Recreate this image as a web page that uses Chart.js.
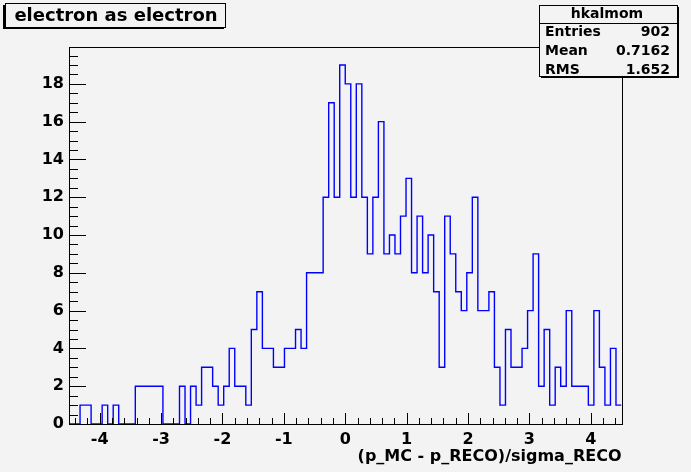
<!DOCTYPE html>
<html>
<head>
<meta charset="utf-8">
<script src="https://cdn.jsdelivr.net/npm/chart.js@4"></script>
<style>
  html, body { margin: 0; padding: 0; background: #f3f3f3; }
  canvas { display: block; }
</style>
</head>
<body>
<canvas id="histo" width="691" height="472"></canvas>
<script>
// histogram binning: 100 bins from -4.5 to 4.5
const binLow = -4.5;
const binHigh = 4.5;
const binWidth = 0.09;
const counts = [
  0, 0, 1, 1, 0, 0, 1, 0, 1, 0,
  0, 0, 2, 2, 2, 2, 2, 0, 0, 0,
  2, 0, 2, 1, 3, 3, 2, 1, 2, 4,
  2, 2, 1, 5, 7, 4, 4, 3, 3, 4,
  4, 5, 4, 8, 8, 8, 12, 17, 12, 19,
  18, 12, 18, 12, 9, 12, 16, 9, 10, 9,
  11, 13, 8, 11, 8, 10, 7, 3, 11, 9,
  7, 6, 8, 12, 6, 6, 7, 3, 1, 5,
  3, 3, 4, 6, 9, 2, 5, 1, 3, 2,
  6, 2, 2, 2, 1, 6, 3, 1, 4, 1
];
const xTicks = [-4, -3, -2, -1, 0, 1, 2, 3, 4];
const yTicks = [0, 2, 4, 6, 8, 10, 12, 14, 16, 18];
const yMax = 19.95;

const histTitle = 'electron as electron';
const xTitle = '(p_MC - p_RECO)/sigma_RECO';
const statsName = 'hkalmom';
const statsLabels = ['Entries', 'Mean', 'RMS'];
const statsValues = ['902', '0.7162', '1.652'];

// left edge of every bin + closing point at the upper edge
const points = counts.map((c, i) => ({ x: binLow + i * binWidth, y: c }));
points.push({ x: binHigh, y: counts[counts.length - 1] });

const FONT = '"DejaVu Sans", "Liberation Sans", sans-serif';

const rootFrame = {
  id: 'rootFrame',
  afterDatasetsDraw(chart) {
    const ctx = chart.ctx;
    const a = chart.chartArea;
    const xs = chart.scales.x, ys = chart.scales.y;
    ctx.save();
    ctx.strokeStyle = '#000';
    ctx.lineWidth = 1;

    // frame
    ctx.strokeRect(Math.round(a.left) + 0.5, Math.round(a.top) + 0.5,
      Math.round(a.right - a.left), Math.round(a.bottom - a.top));

    // x ticks (inward)
    ctx.beginPath();
    for (let v = -4.4; v < binHigh; v += 0.2) {
      const px = Math.round(xs.getPixelForValue(v)) + 0.5;
      const major = Math.abs(v - Math.round(v)) < 1e-6;
      ctx.moveTo(px, a.bottom);
      ctx.lineTo(px, a.bottom - (major ? 11 : 6));
    }
    // y ticks
    for (let v = 0; v <= yMax; v += 0.5) {
      const py = Math.round(ys.getPixelForValue(v)) + 0.5;
      const major = v % 2 === 0;
      ctx.moveTo(a.left, py);
      ctx.lineTo(a.left + (major ? 17 : 9), py);
    }
    ctx.stroke();

    // x axis title
    ctx.fillStyle = '#000';
    ctx.font = 'bold 16px ' + FONT;
    ctx.textAlign = 'right';
    ctx.textBaseline = 'alphabetic';
    ctx.fillText(xTitle, a.right, 461);

    // title box
    ctx.fillStyle = '#f3f3f3';
    ctx.fillRect(5, 3, 221, 24);
    ctx.fillStyle = '#000';
    ctx.fillRect(3, 5, 2, 24);
    ctx.fillRect(3, 27, 221, 2);
    ctx.strokeRect(5.5, 3.5, 220, 24);
    ctx.font = 'bold 18px ' + FONT;
    ctx.textAlign = 'center';
    ctx.textBaseline = 'middle';
    ctx.fillText(histTitle, 116, 16);

    // stats box
    const sx = 539, sy = 5, sw = 138, sh = 71;
    ctx.fillStyle = '#000';
    ctx.fillRect(sx + 2, sy + sh, sw, 2);
    ctx.fillRect(sx + sw, sy + 2, 2, sh);
    ctx.fillStyle = '#f3f3f3';
    ctx.fillRect(sx, sy, sw, sh);
    ctx.strokeRect(sx + 0.5, sy + 0.5, sw, sh);
    ctx.beginPath();
    ctx.moveTo(sx, 23.5);
    ctx.lineTo(sx + sw, 23.5);
    ctx.stroke();
    ctx.fillStyle = '#000';
    ctx.font = 'bold 14px ' + FONT;
    ctx.textAlign = 'center';
    ctx.fillText(statsName, sx + sw / 2 - 1, 14);
    const rowY = [32, 51, 70];
    statsLabels.forEach((lab, i) => {
      ctx.textAlign = 'left';
      ctx.fillText(lab, 545, rowY[i]);
      ctx.textAlign = 'right';
      ctx.fillText(statsValues[i], 670, rowY[i]);
    });
    ctx.restore();
  }
};

new Chart(document.getElementById('histo'), {
  type: 'line',
  data: {
    datasets: [{
      data: points,
      stepped: true,
      borderColor: '#0000ff',
      borderWidth: 1.4,
      pointRadius: 0,
      fill: false
    }]
  },
  options: {
    responsive: false,
    animation: false,
    devicePixelRatio: 1,
    layout: { padding: { top: 47, right: 69.5, left: 0, bottom: 0 } },
    plugins: { legend: { display: false }, tooltip: { enabled: false } },
    scales: {
      x: {
        type: 'linear',
        min: binLow,
        max: binHigh,
        grid: { display: false, drawTicks: false },
        border: { display: false },
        afterBuildTicks: s => { s.ticks = xTicks.map(v => ({ value: v })); },
        afterFit: s => { s.height = 48; },
        ticks: {
          autoSkip: false,
          maxRotation: 0,
          padding: 6,
          color: '#000',
          font: { family: FONT, size: 16, weight: 'bold' }
        }
      },
      y: {
        min: 0,
        max: yMax,
        grid: { display: false, drawTicks: false },
        border: { display: false },
        afterBuildTicks: s => { s.ticks = yTicks.map(v => ({ value: v })); },
        afterFit: s => { s.width = 69; },
        ticks: {
          autoSkip: false,
          padding: 5,
          color: '#000',
          font: { family: FONT, size: 16, weight: 'bold' }
        }
      }
    }
  },
  plugins: [rootFrame]
});
</script>
</body>
</html>
